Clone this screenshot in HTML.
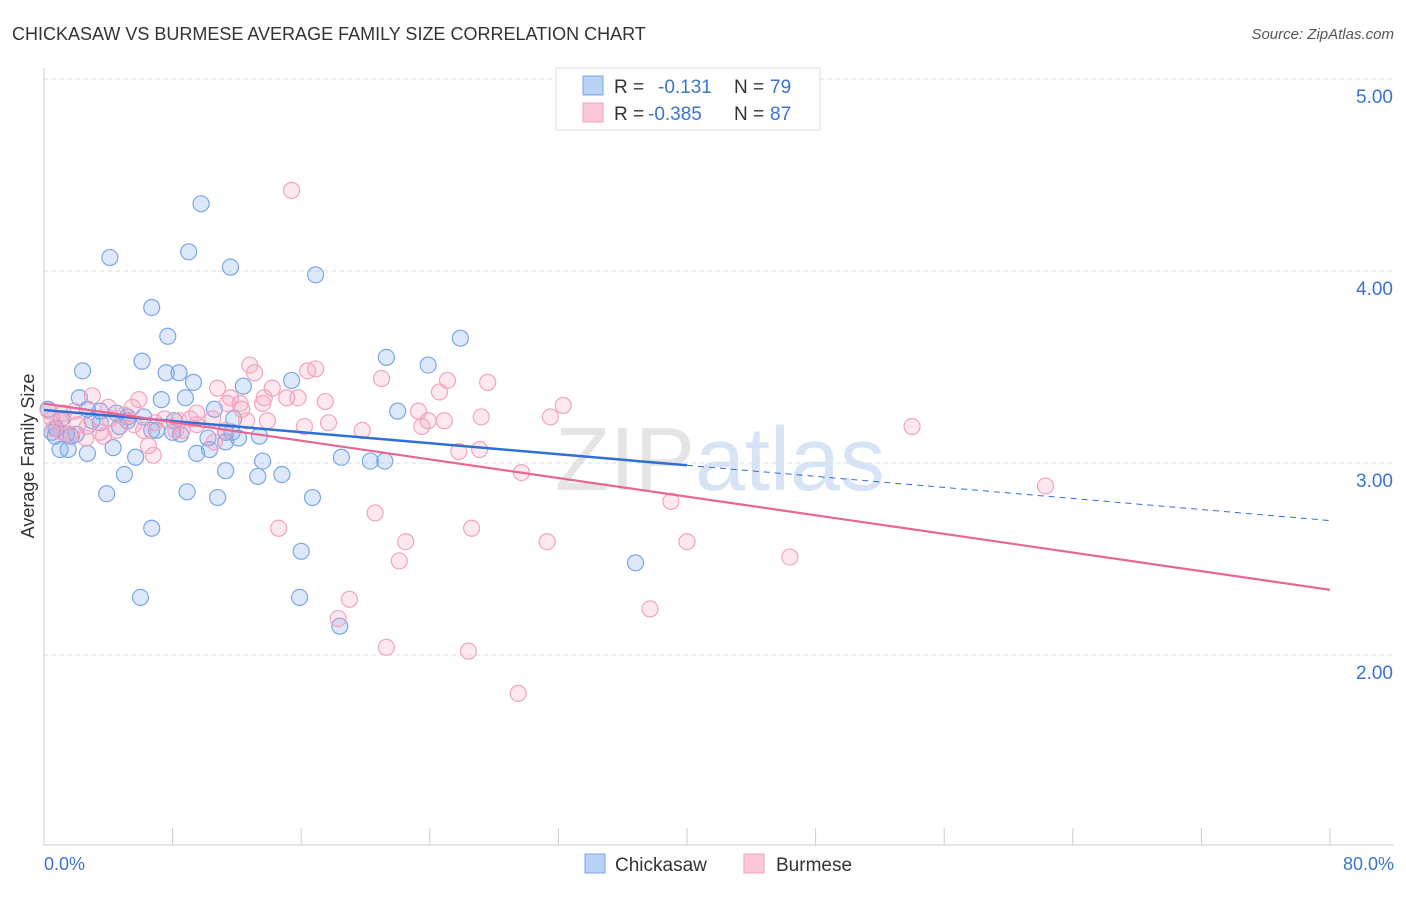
<!DOCTYPE html>
<html><head><meta charset="utf-8"><style>
body{margin:0;background:#fff;font-family:"Liberation Sans",sans-serif;}
svg text{font-family:"Liberation Sans",sans-serif;}
</style></head><body>
<svg id="c" width="1406" height="892" viewBox="0 0 1406 892">
<text x="12" y="40" font-size="18" fill="#333">CHICKASAW VS BURMESE AVERAGE FAMILY SIZE CORRELATION CHART</text>
<text x="1394" y="39" font-size="15" fill="#555" font-style="italic" text-anchor="end">Source: ZipAtlas.com</text>
<text x="720" y="490" font-size="90" fill="#e4e4e4" text-anchor="middle" font-family="Liberation Serif">ZIP<tspan fill="#d6e4f5" font-family="Liberation Sans">atlas</tspan></text>
<g id="grid"></g>
<g id="axes"></g>
<g id="pts"></g>
<g id="lines"></g>
<text transform="translate(34,456) rotate(-90)" font-size="18" fill="#333" text-anchor="middle">Average Family Size</text>
<text x="44" y="870" font-size="18" fill="#3a74d0">0.0%</text>
<text x="1394" y="870" font-size="18" fill="#3a74d0" text-anchor="end">80.0%</text>
<g>
<rect x="556" y="68" width="264" height="62" fill="#fff" stroke="#ddd"/>
<rect x="583" y="76" width="20" height="19" fill="#b8d3f5" stroke="#7aa6e6"/>
<rect x="583" y="103" width="20" height="19" fill="#fcc8d8" stroke="#f0a0bc"/>
<text x="614" y="93" font-size="19" fill="#333">R =</text><text x="658" y="93" font-size="19" fill="#3a74d0">-0.131</text>
<text x="734" y="93" font-size="19" fill="#333">N =</text><text x="770" y="93" font-size="19" fill="#3a74d0">79</text>
<text x="614" y="120" font-size="19" fill="#333">R =</text><text x="648" y="120" font-size="19" fill="#3a74d0">-0.385</text>
<text x="734" y="120" font-size="19" fill="#333">N =</text><text x="770" y="120" font-size="19" fill="#3a74d0">87</text>
</g>
<g><rect x="585" y="854" width="20" height="19" fill="#b8d3f5" stroke="#7aa6e6"/><text x="615" y="871" font-size="19" fill="#333">Chickasaw</text></g>
<g><rect x="744" y="854" width="20" height="19" fill="#fcc8d8" stroke="#f0a0bc"/><text x="776" y="871" font-size="19" fill="#333">Burmese</text></g>
</svg>
<script>
const yTicks=[2,3,4,5];
const yTickLabels=["2.00","3.00","4.00","5.00"];
const blueX=[9.77,4.1,9.0,11.6,16.9,6.7,7.7,25.9,21.3,23.9,6.1,2.4,7.6,8.4,9.3,12.4,15.4,2.2,7.3,8.8,10.6,22.0,3.5,4.5,5.2,2.7,0.25,1.1,3.0,5.2,6.2,8.1,11.8,0.75,1.4,0.7,1.7,6.7,7.0,8.0,8.5,11.3,12.1,13.4,4.3,1.0,2.7,10.3,9.5,5.7,11.3,13.6,18.5,20.3,21.2,5.0,11.3,14.8,13.3,3.9,8.9,10.8,16.7,6.7,16.0,36.8,6.0,15.9,18.4,0.5,2.0,3.5,4.7,11.7,10.2,1.5];
const blueY=[4.35,4.07,4.10,4.02,3.98,3.81,3.66,3.65,3.55,3.51,3.53,3.48,3.47,3.47,3.42,3.40,3.43,3.34,3.33,3.34,3.28,3.27,3.27,3.26,3.24,3.28,3.28,3.23,3.22,3.22,3.24,3.22,3.23,3.18,3.15,3.14,3.14,3.17,3.17,3.16,3.15,3.16,3.13,3.14,3.08,3.07,3.05,3.07,3.05,3.03,3.11,3.01,3.03,3.01,3.01,2.94,2.96,2.94,2.93,2.84,2.85,2.82,2.82,2.66,2.54,2.48,2.30,2.30,2.15,3.16,3.15,3.21,3.19,3.16,3.13,3.07];
const pinkX=[15.4,12.8,16.9,13.1,21.0,25.1,27.6,16.4,14.2,24.6,10.8,3.0,11.6,13.7,15.1,15.8,5.9,11.4,17.5,32.3,4.0,5.5,12.3,13.6,23.3,31.5,23.9,24.9,27.2,9.5,1.2,1.9,5.0,7.5,9.1,10.5,0.5,2.1,2.7,6.9,8.4,12.6,13.9,17.7,23.5,0.6,3.5,4.5,6.2,8.6,1.6,2.6,16.2,19.8,54.0,3.7,10.6,6.5,6.8,25.8,27.1,29.7,62.3,39.0,20.6,14.6,26.6,22.5,31.3,40.0,22.1,46.4,19.0,37.7,18.3,21.3,26.4,29.5,11.3,9.5,4.1,1.1,1.0,0.3,8.2,5.6,12.2];
const pinkY=[4.42,3.51,3.49,3.47,3.44,3.43,3.42,3.48,3.39,3.37,3.39,3.35,3.34,3.34,3.34,3.34,3.33,3.31,3.32,3.30,3.29,3.29,3.28,3.31,3.27,3.24,3.22,3.22,3.24,3.26,3.26,3.27,3.25,3.23,3.23,3.23,3.23,3.20,3.19,3.21,3.22,3.22,3.22,3.21,3.19,3.18,3.16,3.17,3.17,3.17,3.15,3.13,3.19,3.17,3.19,3.14,3.11,3.09,3.04,3.06,3.07,2.95,2.88,2.80,2.74,2.66,2.66,2.59,2.59,2.59,2.49,2.51,2.29,2.24,2.19,2.04,2.02,1.80,3.17,3.20,3.23,3.16,3.22,3.27,3.17,3.20,3.31];
const blueFit=[3.276,-0.00720]; const blueSolidEnd=40;
const pinkFit=[3.31,-0.01213];
const X0=44,X1=1330,Y5=79,PXU=192,BOT=845;
const xs=v=>X0+(v/80)*(X1-X0);
const ys=v=>Y5+(5-v)*PXU;
const NS="http://www.w3.org/2000/svg";
function mk(p,t,a){const e=document.createElementNS(NS,t);for(const k in a)e.setAttribute(k,a[k]);p.appendChild(e);return e;}
const grid=document.getElementById('grid'),axes=document.getElementById('axes');
yTicks.forEach((t,i)=>{
 const l=mk(grid,'line',{x1:44,x2:1394,y1:ys(t),y2:ys(t),stroke:'#ddd','stroke-dasharray':'4,4'});
 
 
 const tx=mk(grid,'text',{x:1393,y:ys(t)+24,'font-size':19,fill:'#3a74d0','text-anchor':'end'});
 tx.textContent=yTickLabels[i];
 
 
});
const ax=mk(axes,'line',{x1:44,x2:1394,y1:BOT,y2:BOT,stroke:'#ccc'});


const ay=mk(axes,'line',{x1:44,x2:44,y1:68,y2:BOT,stroke:'#ccc'});


for(let k=0;k<=10;k++){const t=mk(axes,'line',{x1:xs(k*8),x2:xs(k*8),y1:BOT,y2:BOT-17,stroke:'#ccc'});
 
 }
const pts=document.getElementById('pts');
function dots(X,Y,fill,stroke,name){X.forEach((x,i)=>{const c=mk(pts,'circle',{cx:xs(x),cy:ys(Y[i]),r:8,fill:fill,stroke:stroke,'stroke-width':1.2});
 
 });}
dots(blueX,blueY,'rgba(120,165,235,0.25)','#79a7e8','chickasaw-point');
dots(pinkX,pinkY,'rgba(245,150,185,0.22)','#f2a3bf','burmese-point');
const lines=document.getElementById('lines');
const f=(fit,x)=>fit[0]+fit[1]*x;
const b1=mk(lines,'line',{x1:xs(0),y1:ys(f(blueFit,0)),x2:xs(blueSolidEnd),y2:ys(f(blueFit,blueSolidEnd)),stroke:'#2f6fd6','stroke-width':2.5});


const b2=mk(lines,'line',{x1:xs(blueSolidEnd),y1:ys(f(blueFit,blueSolidEnd)),x2:xs(80),y2:ys(f(blueFit,80)),stroke:'#2f6fd6','stroke-width':1,'stroke-dasharray':'6,5'});


const p1=mk(lines,'line',{x1:xs(0),y1:ys(f(pinkFit,0)),x2:xs(80),y2:ys(f(pinkFit,80)),stroke:'#e8668f','stroke-width':2.2});


</script>
</body></html>
